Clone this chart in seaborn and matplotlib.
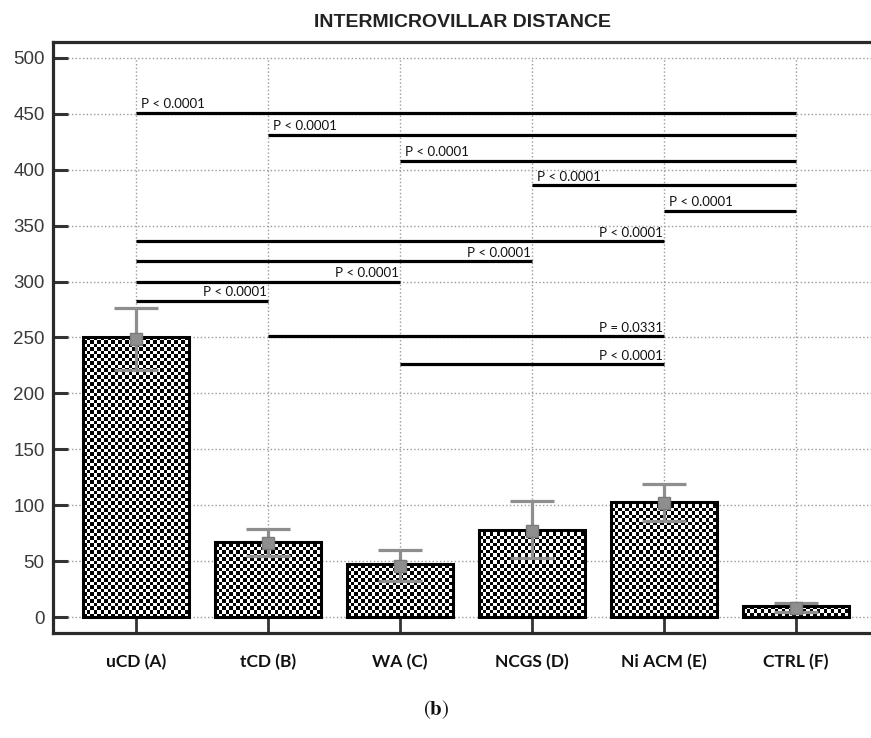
import numpy as np
import matplotlib
matplotlib.use('Agg')
import matplotlib.pyplot as plt
import seaborn as sns

groups = ['uCD (A)', 'tCD (B)', 'WA (C)', 'NCGS (D)', 'Ni ACM (E)', 'CTRL (F)']
bar_values = [250, 67, 47, 78, 103, 10]
mean_values = [248.5, 66.5, 45.5, 77, 102, 8.5]
err_low = [28, 12, 13, 24, 16, 4]
err_high = [28, 12, 14.5, 27, 17, 4]

# significance brackets: (from group, to group), height, label
sig_pairs = [(0, 5), (1, 5), (2, 5), (3, 5), (4, 5), (0, 4), (0, 3), (0, 2), (0, 1), (1, 4), (2, 4)]
sig_y = [451, 431, 408, 386, 363, 336, 318, 300, 283, 251, 226]
sig_labels = ['P < 0.0001'] * 9 + ['P = 0.0331', 'P < 0.0001']
sig_left = [True] * 5 + [False] * 6

yticks = list(range(0, 501, 50))

W, H = 871, 738
fig = plt.figure(figsize=(W / 100, H / 100), dpi=100)
ax = fig.add_axes([53 / W, 1 - 633 / H, 1 - 53 / W, (633 - 42) / H])

sns.barplot(x=groups, y=bar_values, color='white', edgecolor='black',
            linewidth=2.2, width=0.8, ax=ax)
bars = list(ax.patches)

xlim = (-0.629, 5.568)
ylim = (-14.3, 514.3)
ax_w_px = W - 53
ax_h_px = 633 - 42
px_x = ax_w_px / (xlim[1] - xlim[0])
px_y = ax_h_px / (ylim[1] - ylim[0])

# checkerboard fill, same cell size in pixels for every bar
cell = 3.5
for p in bars:
    x0, w, h = p.get_x(), p.get_width(), p.get_height()
    nx = int(np.ceil(w * px_x / cell)) + 1
    ny = int(np.ceil(h * px_y / cell)) + 1
    board = np.add.outer(np.arange(ny), np.arange(nx)) % 2
    im = ax.imshow(board, cmap='gray',
                   extent=(x0, x0 + nx * cell / px_x, 0, ny * cell / px_y),
                   aspect='auto', interpolation='nearest', origin='lower', zorder=1.5)
    im.set_clip_path(p)
    p.set_facecolor('none')
    p.set_zorder(2)

pos = np.arange(len(groups))
ax.errorbar(pos, mean_values, yerr=[err_low, err_high], fmt='s', color='#8e8e8e',
            ecolor='#8e8e8e', elinewidth=2.3, capsize=16, capthick=2.3,
            markersize=9, markeredgecolor='#7a7a7a', zorder=4)

for (a, b), yv, lab, left in zip(sig_pairs, sig_y, sig_labels, sig_left):
    ax.plot([a, b], [yv, yv], color='black', lw=2.3, solid_capstyle='butt', zorder=3)
    if left:
        ax.text(a + 0.04, yv + 2.5, lab, ha='left', va='bottom', fontsize=9.5,
                family=['Lato', 'DejaVu Sans'], color='#111')
    else:
        ax.text(b - 0.01, yv + 2.5, lab, ha='right', va='bottom', fontsize=9.5,
                family=['Lato', 'DejaVu Sans'], color='#111')

ax.set_xlim(*xlim)
ax.set_ylim(*ylim)

# grid
ax.set_axisbelow(True)
ax.yaxis.grid(True, linestyle=':', color='#9a9a9a', linewidth=1.0)
ax.vlines(pos, 0, 500, linestyles=':', colors='#9a9a9a', linewidth=1.0, zorder=0.5)

ax.set_yticks(yticks)
ax.set_yticklabels([str(t) for t in yticks], fontsize=13.5,
                   family=['Liberation Sans', 'DejaVu Sans'], color='#3a3a3a')
ax.set_xticks(pos)
ax.set_xticklabels(groups, fontsize=12.5, fontweight='bold',
                   family=['Lato', 'DejaVu Sans'], color='#111')
ax.tick_params(axis='y', direction='in', length=11, width=2.2, color='#333', pad=6)
ax.tick_params(axis='x', direction='in', length=12, width=2.0, color='#333', pad=15)

for s in ['top', 'left', 'bottom']:
    ax.spines[s].set_linewidth(2.3)
    ax.spines[s].set_color('#2a2a2a')
ax.spines['right'].set_visible(False)

ax.set_title('INTERMICROVILLAR DISTANCE', fontsize=14, fontweight='bold',
             family=['Liberation Sans Narrow', 'Liberation Sans'], color='#222', pad=11)

plt.rcParams['mathtext.fontset'] = 'stix'
fig.text(436 / W, 1 - 710 / H, r'($\mathbf{b}$)', ha='center', va='center',
         fontsize=15, family='STIXGeneral', color='#111')

fig.savefig('out.png', dpi=100)
